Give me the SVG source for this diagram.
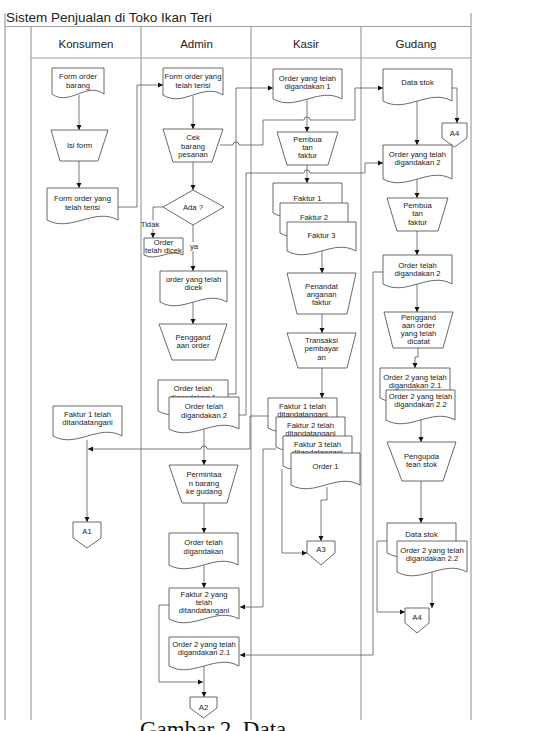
<svg xmlns="http://www.w3.org/2000/svg" width="537" height="731" viewBox="0 0 537 731">
<style>
.frame{stroke:#a0a0a0;stroke-width:1.2;fill:none}
.nd{fill:#fff;stroke:#444;stroke-width:0.8}
.t{font-family:"Liberation Sans",Arial,sans-serif;font-size:7.7px;fill:#222;text-anchor:middle}
.hd{font-family:"Liberation Sans",Arial,sans-serif;font-size:11.5px;fill:#222;text-anchor:middle}
.cn{fill:none;stroke:#555;stroke-width:0.8}
.arr{marker-end:url(#ah)}
</style>
<defs>
<marker id="ah" markerWidth="6" markerHeight="6" refX="5" refY="3" orient="auto" markerUnits="userSpaceOnUse"><path d="M0,0.5 L5,3 L0,5.5 Z" fill="#111"/></marker>
</defs>
<rect width="537" height="731" fill="#fff"/>
<g id="frame">
<line class="frame" x1="5" y1="13" x2="5" y2="720"/>
<line class="frame" x1="471" y1="13" x2="471" y2="720"/>
<line class="frame" x1="5" y1="26.5" x2="471" y2="26.5"/>
<line class="frame" x1="31" y1="58" x2="471" y2="58"/>
<line class="frame" x1="31" y1="26.5" x2="31" y2="720"/>
<line class="frame" x1="141" y1="26.5" x2="141" y2="720"/>
<line class="frame" x1="251" y1="26.5" x2="251" y2="720"/>
<line class="frame" x1="361" y1="26.5" x2="361" y2="720"/>
<text x="6" y="21.5" style="font-family:'Liberation Sans',Arial,sans-serif;font-size:13.5px;fill:#222">Sistem Penjualan di Toko Ikan Teri</text>
<text class="hd" x="86" y="47.5">Konsumen</text>
<text class="hd" x="196.5" y="47.5">Admin</text>
<text class="hd" x="306" y="47.5">Kasir</text>
<text class="hd" x="416" y="47.5">Gudang</text>
<text x="140" y="737" style="font-family:'Liberation Serif','Times New Roman',serif;font-size:23px;fill:#111">Gambar 2. Data</text>
</g>
<g id="connectors">
<path class="cn arr" d="M79,95 V130"/>
<path class="cn arr" d="M79,161 V188"/>
<path class="cn arr" d="M118,207 H137 V85 H163"/>
<path class="cn arr" d="M193,96 V129"/>
<path class="cn arr" d="M193,162 V190"/>
<path class="cn arr" d="M163,207 H153 V238"/>
<path class="cn arr" d="M193,225 V271"/>
<path class="cn arr" d="M193,302 V324"/>
<path class="cn arr" d="M228,394 H236 V88 H273"/>
<path class="cn arr" d="M239,415 H246 V173 H304 A3,3 0 0 1 310,173 H365 V163 H383"/>
<path class="cn arr" d="M220,145 H233 A3,3 0 0 1 239,145 H263 V120 H304 A3,3 0 0 1 310,120 H355 V88 H383"/>
<path class="cn arr" d="M204,429 V465"/>
<path class="cn arr" d="M204,503 V533"/>
<path class="cn arr" d="M204,565 V588"/>
<path class="cn arr" d="M169,605 H159 V682 H203"/>
<path class="cn arr" d="M204,666 V697"/>
<path class="cn arr" d="M268,416 H250 V449 H207 A3,3 0 0 0 201,449 H88"/>
<path class="cn arr" d="M87,440 V522"/>
<path class="cn arr" d="M307,99 V132"/>
<path class="cn arr" d="M307,165 V183"/>
<path class="cn arr" d="M322,251 V273"/>
<path class="cn arr" d="M322,314 V333"/>
<path class="cn arr" d="M322,368 V398"/>
<path class="cn arr" d="M327,487 V500 H321 V541"/>
<path class="cn arr" d="M282,469 V553 H307"/>
<path class="cn arr" d="M276,449 H263 V607 H240"/>
<path class="cn arr" d="M452,88 H457 V123"/>
<path class="cn arr" d="M417,101 V145"/>
<path class="cn arr" d="M417,179 V198"/>
<path class="cn arr" d="M417,231 V255"/>
<path class="cn arr" d="M417,284 V312"/>
<path class="cn arr" d="M418,348 V357 H415 V368"/>
<path class="cn arr" d="M421,420 V442"/>
<path class="cn arr" d="M421,481 V523"/>
<path class="cn arr" d="M432,572 V608"/>
<path class="cn arr" d="M387,541 H377 V612 H405"/>
<path class="cn arr" d="M383,272 H373 V655 H240"/>
<rect x="142" y="220" width="17" height="9" fill="#fff"/>
<text class="t" x="150" y="227">Tidak</text>
<rect x="189" y="242" width="10" height="9" fill="#fff"/>
<text class="t" x="194" y="249">ya</text>
</g>
<g id="n1"><path class="nd" d="M52,68 H104 V94 C86.7,81 69.3,107 52,94 Z"/><text class="t" x="78" y="79">Form order</text><text class="t" x="78" y="88">barang</text></g>
<g id="n2"><polygon class="nd" points="51,130 108,130 98,161 60,161"/><text class="t" x="79.5" y="148">Isi form</text></g>
<g id="n3"><path class="nd" d="M47,188 H118 V220 C94.3,207 70.7,233 47,220 Z"/><text class="t" x="82.5" y="201">Form order yang</text><text class="t" x="82.5" y="210">telah terisi</text></g>
<g id="n4"><path class="nd" d="M53,406 H122 V436 C99,423 76,449 53,436 Z"/><text class="t" x="87.5" y="417">Faktur 1 telah</text><text class="t" x="87.5" y="425">ditandatangani</text></g>
<g id="n5"><polygon class="nd" points="73,522 101,522 101,538 87,548 73,538"/><text class="t" x="87" y="534">A1</text></g>
<g id="n6"><path class="nd" d="M163,68 H223 V95 C203,82 183,108 163,95 Z"/><text class="t" x="193" y="79">Form order yang</text><text class="t" x="193" y="88">telah terisi</text></g>
<g id="n7"><polygon class="nd" points="163,129 223,129 212,162 173,162"/><text class="t" x="193" y="140">Cek</text><text class="t" x="193" y="148.5">barang</text><text class="t" x="193" y="157">pesanan</text></g>
<g id="n8"><polygon class="nd" points="193,190 224,207 193,225 163,207"/><text class="t" x="193" y="210">Ada ?</text></g>
<g id="n9"><path class="nd" d="M144,238 H183 V255 C170,248 157,262 144,255 Z"/><text class="t" x="163.5" y="245">Order</text><text class="t" x="163.5" y="252.5">telah dicek</text></g>
<g id="n10"><path class="nd" d="M160,271 H227 V302 C204.7,289 182.3,315 160,302 Z"/><text class="t" x="193.5" y="282">order yang telah</text><text class="t" x="193.5" y="290">dicek</text></g>
<g id="n11"><polygon class="nd" points="159,324 227,324 215,360 172,360"/><text class="t" x="193" y="340">Penggand</text><text class="t" x="193" y="348">aan order</text></g>
<g id="n12"><path class="nd" d="M158,380 H228 V411 C204.7,398 181.3,424 158,411 Z"/><text class="t" x="193" y="391">Order telah</text><text class="t" x="193" y="400">digandakan 1</text></g>
<g id="n13"><path class="nd" d="M169,397 H239 V429 C215.7,416 192.3,442 169,429 Z"/><text class="t" x="204" y="409">Order telah</text><text class="t" x="204" y="418">digandakan 2</text></g>
<g id="n14"><polygon class="nd" points="169,465 238,465 227,503 182,503"/><text class="t" x="204" y="477">Permintaa</text><text class="t" x="204" y="485.5">n barang</text><text class="t" x="204" y="494">ke gudang</text></g>
<g id="n15"><path class="nd" d="M169,533 H238 V565 C215,552 192,578 169,565 Z"/><text class="t" x="203.5" y="545">Order telah</text><text class="t" x="203.5" y="554">digandakan</text></g>
<g id="n16"><path class="nd" d="M169,588 H239 V619 C215.7,606 192.3,632 169,619 Z"/><text class="t" x="204" y="597">Faktur 2 yang</text><text class="t" x="204" y="605">telah</text><text class="t" x="204" y="613">ditandatangani</text></g>
<g id="n17"><path class="nd" d="M169,637 H239 V666 C215.7,653 192.3,679 169,666 Z"/><text class="t" x="204" y="647">Order 2 yang telah</text><text class="t" x="204" y="655">digandakan 2.1</text></g>
<g id="n18"><polygon class="nd" points="190,697 217,697 217,708 203.5,718 190,708"/><text class="t" x="203.5" y="710">A2</text></g>
<g id="n19"><path class="nd" d="M273,69 H342 V99 C319,86 296,112 273,99 Z"/><text class="t" x="307.5" y="81">Order yang telah</text><text class="t" x="307.5" y="89">digandakan 1</text></g>
<g id="n20"><polygon class="nd" points="277,132 338,132 328,165 287,165"/><text class="t" x="307.5" y="142">Pembua</text><text class="t" x="307.5" y="150">tan</text><text class="t" x="307.5" y="158">faktur</text></g>
<g id="n21"><path class="nd" d="M273,183 H342 V213 C319,200 296,226 273,213 Z"/><text class="t" x="307.5" y="201">Faktur 1</text></g>
<g id="n22"><path class="nd" d="M280,203 H348 V233 C325.3,220 302.7,246 280,233 Z"/><text class="t" x="314" y="220">Faktur 2</text></g>
<g id="n23"><path class="nd" d="M287,222 H356 V251 C333,238 310,264 287,251 Z"/><text class="t" x="321.5" y="238">Faktur 3</text></g>
<g id="n24"><polygon class="nd" points="287,273 356,273 347,314 297,314"/><text class="t" x="321.5" y="289">Penandat</text><text class="t" x="321.5" y="297">anganan</text><text class="t" x="321.5" y="305">faktur</text></g>
<g id="n25"><polygon class="nd" points="287,333 356,333 347,368 298,368"/><text class="t" x="321.5" y="343">Transaksi</text><text class="t" x="321.5" y="351">pembayar</text><text class="t" x="321.5" y="360">an</text></g>
<g id="n26"><path class="nd" d="M268,398 H337 V428 C314,415 291,441 268,428 Z"/><text class="t" x="302.5" y="409">Faktur 1 telah</text><text class="t" x="302.5" y="417">ditandatangani</text></g>
<g id="n27"><path class="nd" d="M276,417 H345 V447 C322,434 299,460 276,447 Z"/><text class="t" x="310.5" y="428">Faktur 2 telah</text><text class="t" x="310.5" y="436">ditandatangani</text></g>
<g id="n28"><path class="nd" d="M283,436 H352 V466 C329,453 306,479 283,466 Z"/><text class="t" x="317.5" y="447">Faktur 3 telah</text><text class="t" x="317.5" y="455">ditandatangani</text></g>
<g id="n29"><path class="nd" d="M291,453 H360 V485 C337,472 314,498 291,485 Z"/><text class="t" x="325.5" y="469">Order 1</text></g>
<g id="n30"><polygon class="nd" points="307,541 335,541 335,553 321,565 307,553"/><text class="t" x="321" y="552">A3</text></g>
<g id="n31"><path class="nd" d="M383,69 H452 V101 C429,88 406,114 383,101 Z"/><text class="t" x="417.5" y="85">Data stok</text></g>
<g id="n32"><polygon class="nd" points="442,123 467,123 467,138 454.5,147 442,138"/><text class="t" x="454.5" y="135.5">A4</text></g>
<g id="n33"><path class="nd" d="M383,145 H452 V179 C429,166 406,192 383,179 Z"/><text class="t" x="417.5" y="157">Order yang telah</text><text class="t" x="417.5" y="165">digandakan 2</text></g>
<g id="n34"><polygon class="nd" points="387,198 448,198 438,231 397,231"/><text class="t" x="417.5" y="208">Pembua</text><text class="t" x="417.5" y="216">tan</text><text class="t" x="417.5" y="225">faktur</text></g>
<g id="n35"><path class="nd" d="M383,255 H452 V284 C429,271 406,297 383,284 Z"/><text class="t" x="417.5" y="268">Order telah</text><text class="t" x="417.5" y="276">digandakan 2</text></g>
<g id="n36"><polygon class="nd" points="384,312 453,312 443,348 393,348"/><text class="t" x="418.5" y="320">Penggand</text><text class="t" x="418.5" y="328">aan order</text><text class="t" x="418.5" y="336">yang telah</text><text class="t" x="418.5" y="344">dicatat</text></g>
<g id="n37"><path class="nd" d="M380,368 H450 V398 C426.7,385 403.3,411 380,398 Z"/><text class="t" x="415" y="380">Order 2 yang telah</text><text class="t" x="415" y="388">digandakan 2.1</text></g>
<g id="n38"><path class="nd" d="M386,390 H455 V420 C432,407 409,433 386,420 Z"/><text class="t" x="420.5" y="399">Order 2 yang telah</text><text class="t" x="420.5" y="407">digandakan 2.2</text></g>
<g id="n39"><polygon class="nd" points="387,442 456,442 443,481 402,481"/><text class="t" x="421.5" y="459">Pengupda</text><text class="t" x="421.5" y="467">tean stok</text></g>
<g id="n40"><path class="nd" d="M387,523 H456 V553 C433,540 410,566 387,553 Z"/><text class="t" x="421.5" y="537">Data stok</text></g>
<g id="n41"><path class="nd" d="M397,541 H467 V572 C443.7,559 420.3,585 397,572 Z"/><text class="t" x="432" y="553">Order 2 yang telah</text><text class="t" x="432" y="561">digandakan 2.2</text></g>
<g id="n42"><polygon class="nd" points="405,608 429,608 429,623 417,633 405,623"/><text class="t" x="417" y="620">A4</text></g>
</svg>
